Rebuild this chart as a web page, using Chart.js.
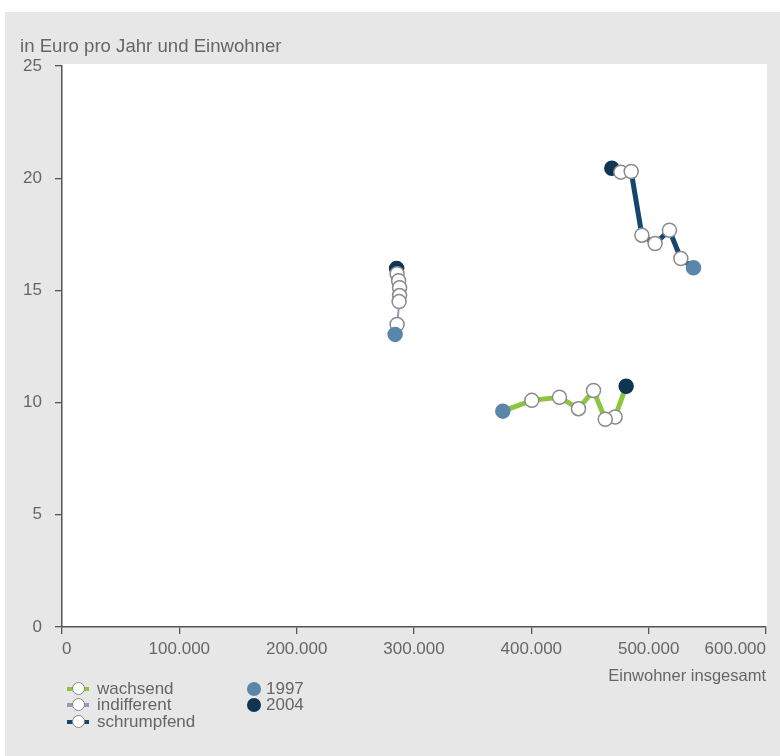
<!DOCTYPE html>
<html>
<head>
<meta charset="utf-8">
<script src="https://cdn.jsdelivr.net/npm/chart.js@4"></script>
<style>
  body { margin: 0; background: #fff; font-family: "Liberation Sans", Arial, sans-serif; }
  #wrap { position: relative; width: 780px; height: 756px; overflow: hidden; }
  #panel { position: absolute; left: 5px; top: 12px; right: 0; bottom: 0; background: #e7e7e7; }
  canvas { position: absolute; left: 0; top: 0; }
  .txt { position: absolute; color: #666; font-size: 16.5px; white-space: nowrap; }
  .leg { position: absolute; height: 16px; font-size: 17px; color: #666; line-height: 16px; white-space: nowrap; }
  .leg .ln { position: absolute; left: 0; top: 6px; width: 22px; height: 4px; }
  .leg .ci { position: absolute; left: 5px; top: 1px; width: 11px; height: 11px; border-radius: 50%;
             background: #fff; border: 1.5px solid #888; }
  .leg .dot { position: absolute; left: 0; top: 1px; width: 14px; height: 14px; border-radius: 50%; }
  .leg span.t { position: absolute; left: 30px; top: 0; }
</style>
</head>
<body>
<div id="wrap">
  <div id="panel"></div>
  <canvas id="chart_div" width="780" height="756"></canvas>
  <div class="txt" style="left:20px; top:35px; font-size:18.6px;">in Euro pro Jahr und Einwohner</div>
  <div class="txt" style="right:14px; top:666px;">Einwohner insgesamt</div>
  <div id="legend"></div>
</div>
<script>
// years 1997 .. 2004, x = Einwohner, y = Euro pro Jahr und Einwohner
const years = ["1997", "1998", "1999", "2000", "2001", "2002", "2003", "2004"];
const wachsendX = [375700, 400400, 424000, 440200, 453000, 463000, 471400, 480800];
const wachsendY = [9.62, 10.10, 10.24, 9.73, 10.54, 9.26, 9.36, 10.73];
const indifferentX = [283900, 285600, 287300, 287700, 287700, 286900, 285600, 285200];
const indifferentY = [13.04, 13.48, 14.50, 14.77, 15.12, 15.43, 15.74, 15.98];
const schrumpfendX = [538200, 527400, 517700, 505500, 494200, 485100, 476300, 468600];
const schrumpfendY = [16.01, 16.42, 17.68, 17.09, 17.46, 20.30, 20.27, 20.44];
const xTicks = [0, 100000, 200000, 300000, 400000, 500000, 600000];
const yTicks = [0, 5, 10, 15, 20, 25];

const c1997 = '#5a86ab';
const c2004 = '#0f3553';
const textColor = '#666666';

function points(xs, ys) {
  // drawn from 2004 back to 1997 so the later markers sit underneath
  return xs.map((x, i) => ({ x: x, y: ys[i] })).reverse();
}
function fills(n) {
  const arr = [];
  for (let i = 0; i < n; i++) arr.push(i === 0 ? c2004 : (i === n - 1 ? c1997 : '#ffffff'));
  return arr;
}
function borders(n) {
  const arr = [];
  for (let i = 0; i < n; i++) arr.push(i === 0 ? c2004 : (i === n - 1 ? c1997 : '#8a8a8a'));
  return arr;
}
function fmt(v) {
  return String(v).replace(/\B(?=(\d{3})+(?!\d))/g, '.');
}

const series = [
  { label: 'schrumpfend', xs: schrumpfendX, ys: schrumpfendY, color: '#16466b', width: 5 },
  { label: 'indifferent', xs: indifferentX, ys: indifferentY, color: '#8f9cbc', width: 2 },
  { label: 'wachsend', xs: wachsendX, ys: wachsendY, color: '#8cc63e', width: 5 }
];

const whiteArea = {
  id: 'whiteArea',
  beforeDraw(chart) {
    const a = chart.chartArea;
    const g = chart.ctx;
    g.save();
    g.fillStyle = '#ffffff';
    g.fillRect(a.left, a.top - 2, a.right - a.left + 1, a.bottom - a.top + 2);
    g.restore();
  }
};

const tickFont = { family: 'Liberation Sans', size: 17 };

const ctx = document.getElementById('chart_div');
new Chart(ctx, {
  type: 'scatter',
  data: {
    datasets: series.map(s => ({
      label: s.label,
      data: points(s.xs, s.ys),
      showLine: true,
      borderColor: s.color,
      borderWidth: s.width,
      pointRadius: 7,
      pointHoverRadius: 7,
      pointBorderWidth: 1.5,
      pointBackgroundColor: fills(s.xs.length),
      pointBorderColor: borders(s.xs.length)
    }))
  },
  options: {
    responsive: false,
    animation: false,
    devicePixelRatio: 1,
    layout: { padding: { left: 0, top: 66, right: 14, bottom: 0 } },
    plugins: { legend: { display: false }, tooltip: { enabled: false } },
    scales: {
      x: {
        type: 'linear',
        min: 0,
        max: 600000,
        afterBuildTicks: (scale) => { scale.ticks = xTicks.map(v => ({ value: v })); },
        afterFit: (scale) => { scale.height = 129; },
        grid: { drawOnChartArea: false, drawTicks: true, tickLength: 7, color: '#555', lineWidth: 1.3 },
        border: { display: true, color: '#555', width: 1.5 },
        ticks: {
          align: 'inner',
          maxRotation: 0,
          padding: 5,
          color: textColor,
          font: tickFont,
          callback: (v) => fmt(v)
        }
      },
      y: {
        min: 0,
        max: 25,
        afterBuildTicks: (scale) => { scale.ticks = yTicks.map(v => ({ value: v })); },
        afterFit: (scale) => { scale.width = 62; },
        grid: { drawOnChartArea: false, drawTicks: true, tickLength: 7, color: '#555', lineWidth: 1.3 },
        border: { display: true, color: '#555', width: 1.5 },
        ticks: {
          padding: 13,
          color: textColor,
          font: tickFont
        }
      }
    }
  },
  plugins: [whiteArea]
});

// legend below the axis
const legend = document.getElementById('legend');
const lineItems = [
  { label: 'wachsend', color: '#8cc63e', top: 681 },
  { label: 'indifferent', color: '#8f9cbc', top: 697 },
  { label: 'schrumpfend', color: '#16466b', top: 714 }
];
lineItems.forEach(it => {
  const d = document.createElement('div');
  d.className = 'leg';
  d.style.left = '67px';
  d.style.top = it.top + 'px';
  d.innerHTML = '<div class="ln" style="background:' + it.color + '"></div><div class="ci"></div><span class="t" style="left:30px">' + it.label + '</span>';
  legend.appendChild(d);
});
const yearItems = [
  { label: years[0], color: c1997, top: 681 },
  { label: years[years.length - 1], color: c2004, top: 697 }
];
yearItems.forEach(it => {
  const d = document.createElement('div');
  d.className = 'leg';
  d.style.left = '247px';
  d.style.top = it.top + 'px';
  d.innerHTML = '<div class="dot" style="background:' + it.color + '"></div><span class="t" style="left:19px">' + it.label + '</span>';
  legend.appendChild(d);
});
</script>
</body>
</html>
